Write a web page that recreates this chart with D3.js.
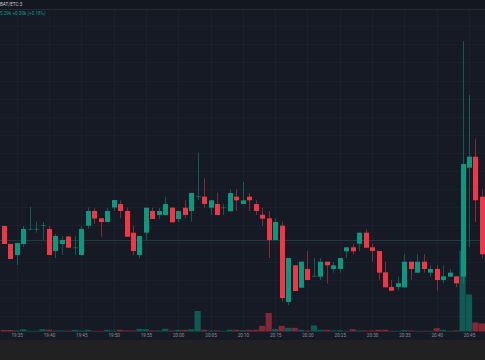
<!DOCTYPE html>
<html><head><meta charset="utf-8">
<script src="https://cdn.jsdelivr.net/npm/d3@7"></script>
<style>html,body{margin:0;padding:0;background:#212121;overflow:hidden}</style>
</head><body><svg id="c" width="485" height="360"></svg>
<script>
const times = ["19:33","19:34","19:35","19:36","19:37","19:38","19:39","19:40","19:41","19:42","19:43","19:44","19:45","19:46","19:47","19:48","19:49","19:50","19:51","19:52","19:53","19:54","19:55","19:56","19:57","19:58","19:59","20:00","20:01","20:02","20:03","20:04","20:05","20:06","20:07","20:08","20:09","20:10","20:11","20:12","20:13","20:14","20:15","20:16","20:17","20:18","20:19","20:20","20:21","20:22","20:23","20:24","20:25","20:26","20:27","20:28","20:29","20:30","20:31","20:32","20:33","20:34","20:35","20:36","20:37","20:38","20:39","20:40","20:41","20:42","20:43","20:44","20:45","20:46","20:47"];
const opens  = [174,156,145,156,170.7,170.7,174.5,171,149,156,163.5,152.3,145,174.3,189,181.7,178,192.5,196,189,167.3,145,167.3,189,185,185,192.3,181,192.3,189,203.3,203.3,192.3,196,192.3,188.7,203.3,196,203.3,196,185.3,181.7,160,174.3,98,134.7,112.3,131,123.7,123.3,138.3,131,131,148.7,152.7,156.3,167.3,152.7,149,127.7,113,113,112.7,138.3,127.3,138.3,127.3,131,120,123.3,123.7,123.3,232.3,243.3,203.3];
const closes = [156,141,157,171,170.7,170.7,174.5,145,164,160,152.3,152.3,171,189,181.5,178,189,200,189,163.3,149,164,192.3,181,189,196,177.7,189,185,207,203.3,196,199.7,185,192.3,207,199.7,199.7,199.7,189,181.3,160,178,102,142,109,138.3,120,123.7,138.3,134.7,134.7,142,152.7,148.7,167.3,152.3,149,127.3,112.7,109.3,116.7,138.3,131,138.3,131,131,120,123.7,127.3,116.7,236,243.3,199.7,145.7];
const highs  = [174,156,157,174,193.3,178.3,178,174,166,164,164,164,174,192.5,192,182,192.3,200,199.7,192.5,174.5,164,192.3,192.3,192,203.3,193,189,199.7,207,247.3,221.7,199.7,207.3,196,210.7,210.7,218,207,199.7,192.3,189,181.7,178.3,142,134.7,138.3,149,142,142,138.3,138.3,142,152.7,156.3,167.3,170.7,156.3,149,138.3,120,123.3,145.7,138.3,145.7,145.7,134.7,134.7,134.7,131,123.7,359,305,261.3,210.7];
const lows   = [156,141,135,153,170,167.3,160,145,142,145,152,145,145,171.5,176,163.3,178,189,181.7,163.3,145,141.7,160,181,181,185,177.7,178,181.7,178.3,200,192.3,185,185,185,188.7,189,196,189,185,174.3,142,160,98.3,95,109,112.3,120,123.3,120,116.3,127.3,127.3,142,145.3,149,152.3,138.3,120,112.7,109.3,109.3,112.7,120,127.3,127.3,123.3,109.3,116.7,123.3,112.7,116.7,152.7,178,141.7];
const volumes = [15,15,10,23,7,7,23,17,10,10,7,17,10,17,7,7,17,10,17,10,10,27,23,10,10,27,10,17,17,23,205,17,10,10,7,17,17,13,17,17,57,185,23,57,37,37,17,10,60,17,17,10,13,7,23,10,10,10,17,17,7,7,13,10,7,7,7,33,17,7,10,810,370,90,80];
const tickLabels = ["19:35","19:40","19:45","19:50","19:55","20:00","20:05","20:10","20:15","20:20","20:25","20:30","20:35","20:40","20:45"];
const priceTicks = [391.9,373.8,355.7,337.6,319.5,301.4,283.3,265.2,247.1,229.0,210.9,192.8,174.7,156.6,138.5,120.4,102.3,84.2];
const lastPrice = 159.5;

const W = 485, H = 360;
const parse = d3.timeParse("%H:%M");
const svg = d3.select("#c");
const x = d3.scaleTime().domain([parse("19:35"), parse("20:45")]).range([16.7, 469]);
const y = d3.scaleLinear().domain([60, 400]).range([340, 0]);
const v = d3.scaleLinear().domain([0, 1000]).range([331.5, 231.5]);

const up = "#089981", down = "#f23645";
const data = times.map((t, i) => ({t: parse(t), o: opens[i], c: closes[i], h: highs[i], l: lows[i], vol: volumes[i]}));

// backgrounds
svg.append("rect").attr("x", 0).attr("y", 0).attr("width", W).attr("height", 340).attr("fill", "#161a25");
svg.append("rect").attr("x", 0).attr("y", 0).attr("width", W).attr("height", 9.5).attr("fill", "#141720");
svg.append("line").attr("x1", 0).attr("x2", W).attr("y1", 9.5).attr("y2", 9.5).attr("stroke", "#262a35").attr("stroke-width", 1);

svg.append("defs").append("clipPath").attr("id", "plot")
  .append("rect").attr("x", 0).attr("y", 10).attr("width", W).attr("height", 322);

const g = svg.append("g").attr("clip-path", "url(#plot)");

// grid
g.append("g").selectAll("line").data(priceTicks).join("line")
  .attr("x1", 0).attr("x2", W)
  .attr("y1", d => Math.round(y(d)) + 0.5).attr("y2", d => Math.round(y(d)) + 0.5)
  .attr("stroke", "#1c202c").attr("stroke-width", 1);
g.append("g").selectAll("line").data(tickLabels.map(parse)).join("line")
  .attr("x1", d => Math.round(x(d)) + 0.5).attr("x2", d => Math.round(x(d)) + 0.5)
  .attr("y1", 10).attr("y2", 332)
  .attr("stroke", "#1c202c").attr("stroke-width", 1);

// last price line
g.append("line").attr("x1", 0).attr("x2", W)
  .attr("y1", y(lastPrice)).attr("y2", y(lastPrice))
  .attr("stroke", "#1f3d3d").attr("stroke-width", 1);

// volume
const bw = 6.2;
g.append("g").selectAll("rect").data(data).join("rect")
  .attr("x", d => x(d.t) - bw / 2).attr("width", bw)
  .attr("y", d => v(d.vol)).attr("height", d => v(0) - v(d.vol))
  .attr("fill", d => d.c >= d.o ? up : down).attr("fill-opacity", 0.5);

// wicks
g.append("g").selectAll("line").data(data).join("line")
  .attr("x1", d => Math.round(x(d.t)) + 0.5).attr("x2", d => Math.round(x(d.t)) + 0.5)
  .attr("y1", d => y(d.h)).attr("y2", d => y(d.l))
  .attr("stroke", d => d.c >= d.o ? up : down).attr("stroke-opacity", 0.5).attr("stroke-width", 1);

// bodies
const cw = 5;
g.append("g").selectAll("rect").data(data).join("rect")
  .attr("x", d => Math.round(x(d.t)) + 0.5 - cw / 2).attr("width", cw)
  .attr("y", d => d.o === d.c ? y(d.o) - 0.5 : y(Math.max(d.o, d.c)))
  .attr("height", d => d.o === d.c ? 1 : Math.max(1, y(Math.min(d.o, d.c)) - y(Math.max(d.o, d.c))))
  .attr("fill", d => d.c >= d.o ? up : down)
  .attr("fill-opacity", d => d.o === d.c ? 0.5 : 1);

// time axis
const ax = svg.append("g").attr("transform", "translate(0,332)")
  .call(d3.axisBottom(x).tickValues(tickLabels.map(parse)).tickFormat(d3.timeFormat("%H:%M")).tickSize(0).tickPadding(2));
ax.select(".domain").remove();
ax.selectAll("text").attr("fill", "#8c8f99").attr("font-size", "4.6px").attr("font-family", "Roboto, sans-serif");

// header & legend
svg.append("text").attr("x", 0).attr("y", 6.3).attr("fill", "#c9ccd4")
  .attr("font-size", "4.6px").attr("font-family", "Roboto, sans-serif").text("BAT/ETC:3");
svg.append("text").attr("x", 0).attr("y", 15.3).attr("fill", up)
  .attr("font-size", "4.6px").attr("font-family", "Roboto, sans-serif").text("5.29k  +0.30k (+0.18%)");
</script></body></html>
